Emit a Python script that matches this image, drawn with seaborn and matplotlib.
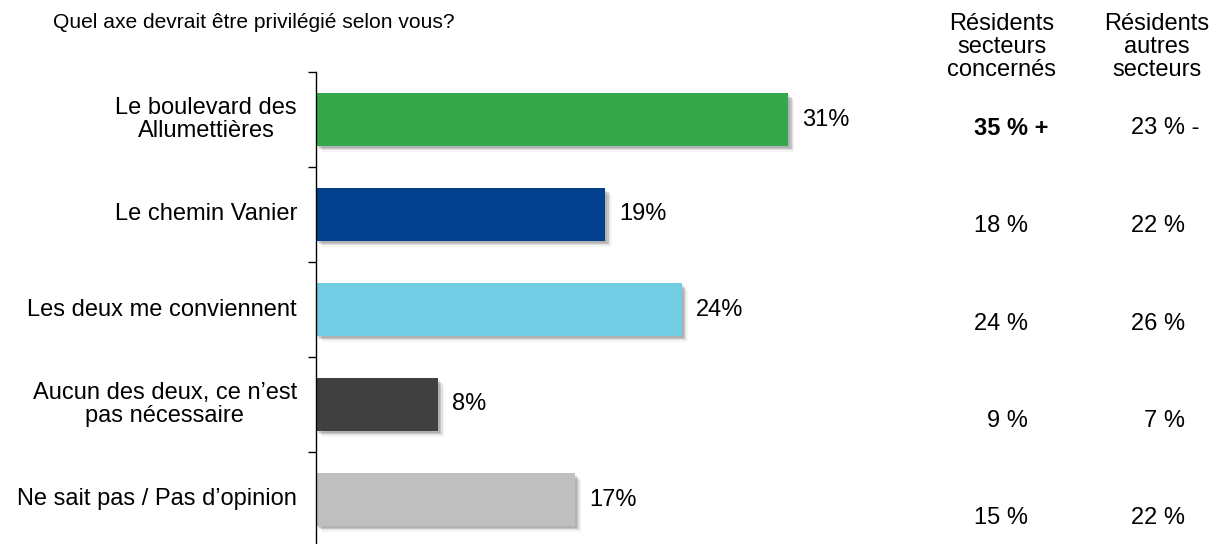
import matplotlib
matplotlib.use("Agg")
import matplotlib.pyplot as plt
import matplotlib.patheffects as pe
from matplotlib.transforms import offset_copy, blended_transform_factory
import seaborn as sns
import pandas as pd

# Survey answers and overall shares (%)
categories = [
    "Le boulevard des\nAllumettières",
    "Le chemin Vanier",
    "Les deux me conviennent",
    "Aucun des deux, ce n\u2019est\npas nécessaire",
    "Ne sait pas / Pas d\u2019opinion",
]
overall = [31, 19, 24, 8, 17]
bar_colors = ["#34A84A", "#03408E", "#70CDE3", "#404040", "#BFBFBF"]

# Sub-group results
group_headers = ["Résidents\nsecteurs\nconcernés", "Résidents\nautres\nsecteurs"]
group_concerned = [35, 18, 24, 9, 15]
group_others = [23, 22, 26, 7, 22]
flag_concerned = [" +", "", "", "", ""]
flag_others = [" -", "", "", "", ""]
bold_concerned = [True, False, False, False, False]

question = "Quel axe devrait être privilégié selon vous?"

sns.set_style("white")
plt.rcParams["font.family"] = ["Liberation Sans", "DejaVu Sans"]

W, H = 1219, 544
fig = plt.figure(figsize=(W / 100, H / 100), dpi=100)

# Plot area: left spine at x=316px, top at y=72px, 95px per category
ax_left, ax_top, step = 316, 72, 95
x_max = 38
px_per_unit = 15.23
ax_w = x_max * px_per_unit
ax_h = step * len(categories)
ax = fig.add_axes([ax_left / W, (H - ax_top - ax_h) / H, ax_w / W, ax_h / H])

df = pd.DataFrame({"cat": categories, "val": overall})
sns.barplot(data=df, x="val", y="cat", hue="cat", palette=bar_colors,
            orient="h", width=0.55, legend=False, ax=ax, saturation=1)

shadow = [
    pe.SimplePatchShadow(offset=(1.5, -1.5), shadow_rgbFace="#000000", alpha=0.10),
    pe.SimplePatchShadow(offset=(2.5, -2.5), shadow_rgbFace="#000000", alpha=0.12),
    pe.SimplePatchShadow(offset=(3.5, -3.5), shadow_rgbFace="#000000", alpha=0.08),
    pe.SimplePatchShadow(offset=(4.5, -4.5), shadow_rgbFace="#000000", alpha=0.04),
    pe.Normal(),
]
for p in ax.patches:
    p.set_linewidth(0)
    p.set_path_effects(shadow)

ax.set_xlim(0, x_max)
ax.set_ylim(len(categories) - 0.5, -0.5)
ax.set_xticks([])
ax.set_yticks([i - 0.5 for i in range(len(categories) + 1)])
ax.set_yticklabels([])
ax.tick_params(axis="y", direction="out", length=6, width=1, color="#000000", left=True)
ax.set_xlabel("")
ax.set_ylabel("")
for s in ["top", "right", "bottom"]:
    ax.spines[s].set_visible(False)
ax.spines["left"].set_color("#000000")
ax.spines["left"].set_linewidth(1)

# Category labels, right-aligned left of the axis, lines centred
ytr = blended_transform_factory(ax.transAxes, ax.transData)
lab_tr = offset_copy(ytr, fig=fig, x=-19, y=0, units="dots")
for i, c in enumerate(categories):
    ax.text(0, i, c, transform=lab_tr, ha="right", va="center",
            multialignment="center", fontsize=17, linespacing=1.05,
            color="#000000")

# Value labels at the end of each bar
val_tr = offset_copy(ax.transData, fig=fig, x=14, y=0, units="dots")
for i, v in enumerate(overall):
    ax.text(v, i, f"{v}%", transform=val_tr, ha="left", va="center",
            fontsize=17, color="#000000")

# Question text
fig.text(53 / W, 1 - 23 / H, question, ha="left", va="center", fontsize=15.1, color="#000000")

# Sub-group columns
col_centers = [1002, 1157]
col_right = [1028, 1185]
for cx, hdr in zip(col_centers, group_headers):
    fig.text(cx / W, 1 - 13 / H, hdr, ha="center", va="top", fontsize=17,
             linespacing=1.06, color="#000000")

row_top, row_step = 128.5, 97.5
cols = [
    (group_concerned, flag_concerned, bold_concerned),
    (group_others, flag_others, [False] * len(group_others)),
]
for (vals, flags, bolds), xr in zip(cols, col_right):
    for i, (v, f, b) in enumerate(zip(vals, flags, bolds)):
        y = 1 - (row_top + row_step * i) / H
        w = "bold" if b else "normal"
        fig.text(xr / W, y, f"{v} %", ha="right", va="center", fontsize=17,
                 fontweight=w, color="#000000")
        if f:
            fig.text(xr / W, y, f, ha="left", va="center", fontsize=17,
                     fontweight=w, color="#000000")

fig.savefig("out.png", dpi=100)
